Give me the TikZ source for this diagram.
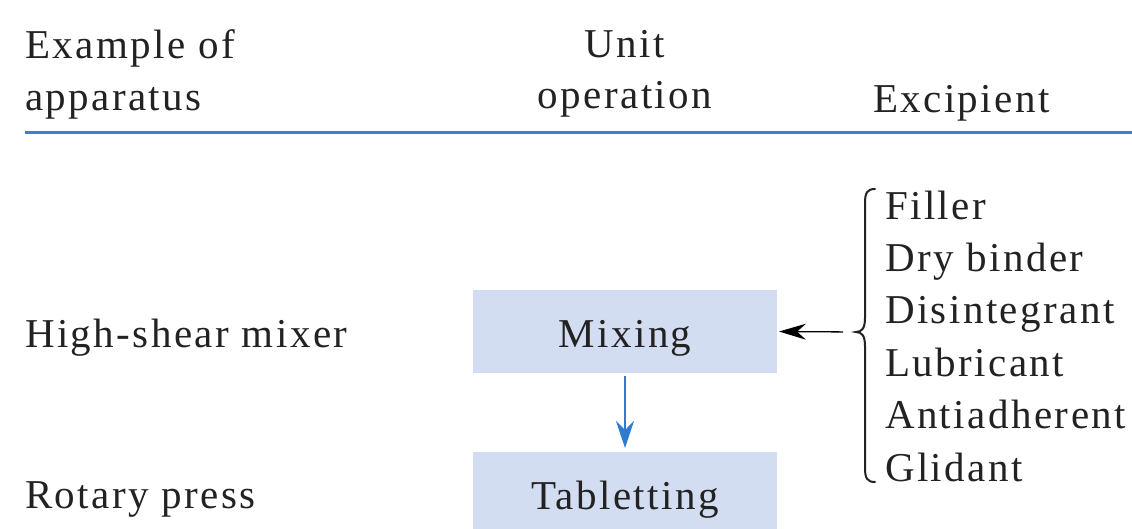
\documentclass[tikz,border=0pt]{standalone}
\usepackage{fontspec}
\setmainfont{Liberation Serif}[LetterSpace=6]
\usetikzlibrary{arrows.meta}
\definecolor{boxfill}{HTML}{D2DDF2}
\definecolor{rulblue}{HTML}{3A80D0}
\definecolor{arrblue}{HTML}{2E7BD0}
\definecolor{txt}{HTML}{222222}
\begin{document}
\begin{tikzpicture}[x=1pt,y=-1pt,
  every node/.style={inner sep=0pt,outer sep=0pt,text=txt,font=\fontsize{41}{52}\selectfont},
  lbl/.style={anchor=base west},
  clbl/.style={anchor=base},
  opbox/.style={fill=boxfill,draw=none,minimum width=304pt,minimum height=83pt,text height=31pt,text depth=0pt},
  bluearrow/.style={draw=arrblue,line width=2pt,-{Stealth[length=27pt,width=18pt,inset=9pt]}},
  blackarrow/.style={draw=black,line width=1.3pt,-{Stealth[length=27pt,width=16pt,inset=9pt]}},
  bracestyle/.style={draw=txt,line width=2pt,line cap=round}
]
\useasboundingbox (0,0) rectangle (1132,528);
% header
\node[lbl] (h1a) at (25,58) {Example of};
\node[lbl] (h1b) at (25,110) {apparatus};
\node[clbl] (h2a) at (625,57) {Unit};
\node[clbl] (h2b) at (625,108) {operation};
\node[lbl] (h3) at (873,112) {Excipient};
\coordinate (rl) at (25,132);
\coordinate (rr) at (1132,132);
\draw[rulblue,line width=3pt] (rl) -- (rr);
% apparatus
\node[lbl] (app1) at (25,347) {High-shear mixer};
\node[lbl] (app2) at (25,508) {Rotary press};
% boxes
\node[opbox] (mix) at (625,331.5) {Mixing};
\node[opbox] (tab) at (625,493.5) {Tabletting};
\draw[bluearrow,shorten <=3pt,shorten >=4pt] (mix.south) -- (tab.north);
% brace
\coordinate (bt) at (856,332);
\draw[bracestyle] (875,189) .. controls (867,189) and (865,193) .. (865,203)
  -- (865,318) .. controls (865,328) and (862,332) .. (bt)
  .. controls (862,332) and (865,336) .. (865,346)
  -- (865,468) .. controls (865,478) and (867,482) .. (875,482);
\draw[blackarrow,shorten <=13pt,shorten >=2pt] (bt) -- (mix.east);
% excipients
\node[lbl] (e1) at (885,219) {Filler};
\node[lbl] (e2) at (885,271.4) {Dry binder};
\node[lbl] (e3) at (885,323.8) {Disintegrant};
\node[lbl] (e4) at (885,376.2) {Lubricant};
\node[lbl] (e5) at (885,428.6) {Antiadherent};
\node[lbl] (e6) at (885,481) {Glidant};
\end{tikzpicture}
\end{document}
